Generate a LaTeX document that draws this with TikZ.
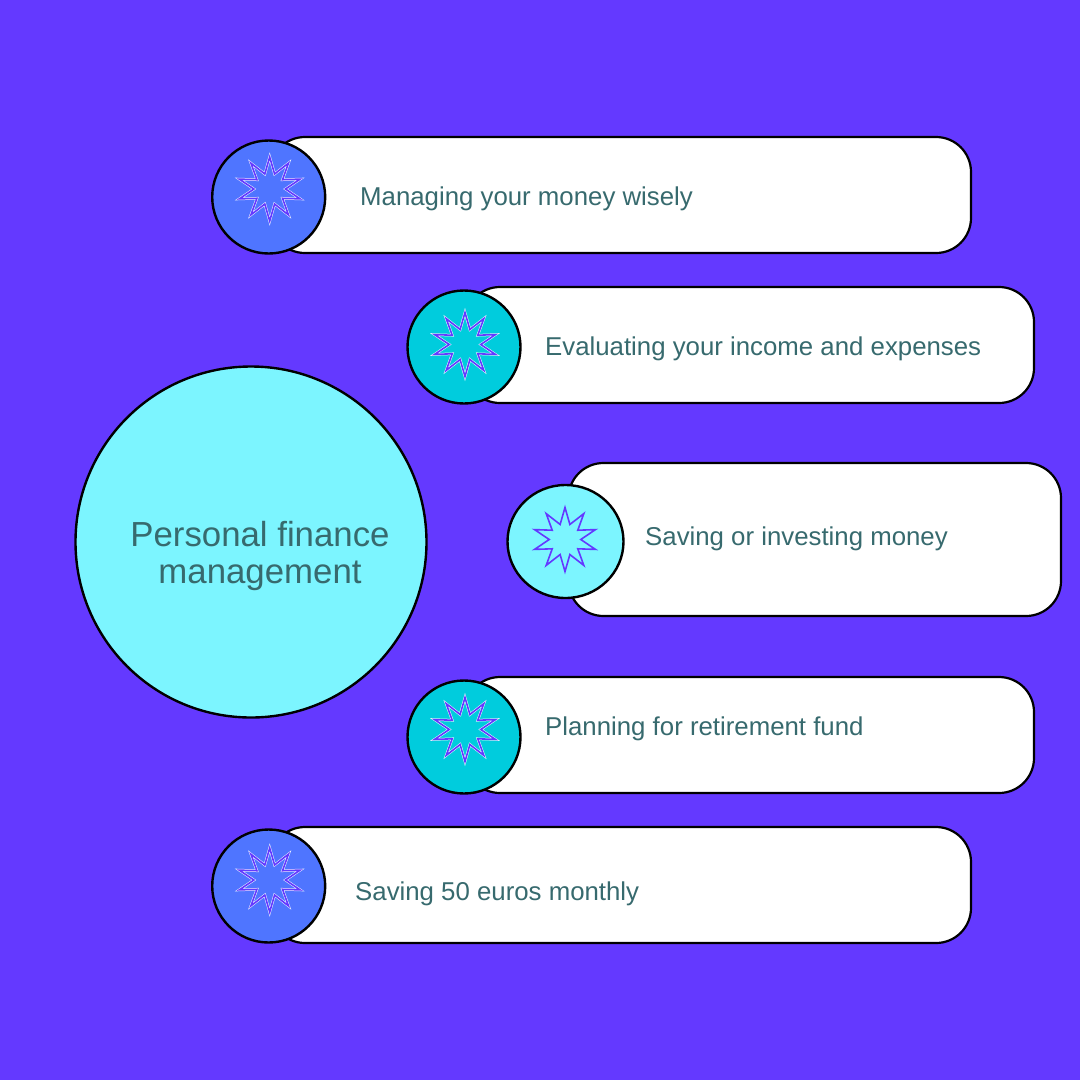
\documentclass[tikz,border=0pt]{standalone}
\usepackage{fontspec}
\setmainfont{Liberation Sans}
\usetikzlibrary{calc,shapes.geometric}
\definecolor{bgv}{HTML}{6439FF}
\definecolor{blu}{HTML}{4F75FF}
\definecolor{tea}{HTML}{00CCDD}
\definecolor{cya}{HTML}{7CF5FF}
\definecolor{txt}{HTML}{376A6E}
\newcommand{\starpath}[2]{%
 \path[#2] ($(#1)+(0,-32)$)
 \foreach \k in {0,...,9}{ -- ($(#1)+({-90-36*\k}:32)$) -- ($(#1)+({-108-36*\k}:15.8)$) } -- cycle;}
\tikzset{
 pill/.style={draw=black,fill=white,line width=2.2pt,rounded corners=35pt,inner sep=0pt,minimum height=#1},
 badge/.style={circle,draw=black,line width=2.4pt,minimum size=113pt,inner sep=0pt},
 wbadge/.style={ellipse,draw=black,line width=2.4pt,minimum width=116pt,minimum height=113pt,inner sep=0pt},
 bigc/.style={circle,draw=black,line width=2.4pt,fill=cya,minimum size=351pt,inner sep=0pt},
 lab/.style={anchor=base west,inner sep=0pt,text=txt,font=\fontsize{25.8pt}{30pt}\selectfont},
 halo/.style={draw=white,draw opacity=0.9,line width=2.6pt,miter limit=10},
 sline/.style={draw=bgv,line width=1.6pt,miter limit=10},
}
\begin{document}
\begin{tikzpicture}[x=1pt,y=-1pt]
\path[use as bounding box,fill=bgv] (0,0) rectangle (1080,1080);
% pills
\node[pill=116pt,minimum width=701pt] (p1) at (620.5,195) {};
\node[pill=116pt,minimum width=569pt] (p2) at (749.5,345) {};
\node[pill=153pt,minimum width=492.5pt] (p3) at (814.75,539.5) {};
\node[pill=116pt,minimum width=569pt] (p4) at (749.5,735) {};
\node[pill=116pt,minimum width=701pt] (p5) at (620.5,885) {};
% badges
\node[badge,fill=blu] (b1) at (268.7,197) {};
\node[badge,fill=tea] (b2) at (464,347) {};
\node[wbadge,fill=cya] (b3) at (565.5,541.5) {};
\node[badge,fill=tea] (b4) at (464,737) {};
\node[badge,fill=blu] (b5) at (268.7,886) {};
% stars
\coordinate (s1) at (269.7,189);
\coordinate (s2) at (465,344.5);
\coordinate (s3) at (565,539.5);
\coordinate (s4) at (465,729.5);
\coordinate (s5) at (269.7,880);
\foreach \s in {s1,s2,s4,s5}{\starpath{\s}{halo}}
\foreach \s in {s1,s2,s3,s4,s5}{\starpath{\s}{sline}}
% central circle
\node[bigc] (c) at (251,542) {};
\node[align=center,inner sep=0pt,text=txt,font=\fontsize{34.8pt}{37pt}\selectfont] (ct) at (260,556) {Personal finance\\management};
% labels
\node[lab] (t1) at (360,205) {Managing your money wisely};
\node[lab] (t2) at (545,355) {Evaluating your income and expenses};
\node[lab] (t3) at (645,545) {Saving or investing money};
\node[lab] (t4) at (545,735) {Planning for retirement fund};
\node[lab] (t5) at (355,900) {Saving 50 euros monthly};
\end{tikzpicture}
\end{document}
